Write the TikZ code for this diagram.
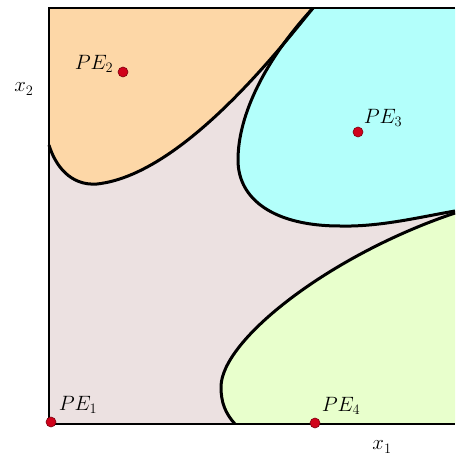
\documentclass[tikz,border=0pt]{standalone}
\usetikzlibrary{positioning}

\definecolor{basepink}{RGB}{236,225,225}
\definecolor{peorange}{RGB}{253,215,167}
\definecolor{pecyan}{RGB}{179,255,251}
\definecolor{pegreen}{RGB}{232,255,204}
\definecolor{pered}{RGB}{208,2,27}

\tikzset{
  boundary/.style={line width=3pt,line join=round},
  frame/.style={line width=2.4pt},
  pedot/.style={circle,fill=pered,draw=pered!60!black,line width=0.6pt,
                inner sep=0pt,minimum size=10pt},
  pelabel/.style={inner sep=0pt,font=\fontsize{20}{24}\selectfont}
}

\begin{document}
\begin{tikzpicture}[x=1pt,y=-1pt]
  \useasboundingbox (0,0) rectangle (455,457);

  % --- Background ---
  \fill[basepink] (49,8) rectangle (455,424);

  % --- Regions ---
  \fill[peorange] (49,8) -- (313,8)
       .. controls (275,55) and (180,175) .. (97,184)
       .. controls (70,186) and (55,165) .. (49,145) -- cycle;

  \fill[pecyan] (313,8) -- (455,8) -- (455,211)
       .. controls (420,217) and (380,227) .. (340,226)
       .. controls (275,226) and (238,200) .. (238,160)
       .. controls (238,115) and (265,60) .. (313,8) -- cycle;

  \fill[pegreen] (455,213) -- (455,424) -- (235,424)
       .. controls (225,413) and (221,402) .. (221,387)
       .. controls (221,340) and (330,255) .. (455,213) -- cycle;

  % --- Boundaries ---
  \draw[boundary] (313,8)
       .. controls (275,55) and (180,175) .. (97,184)
       .. controls (70,186) and (55,165) .. (49,145);
  \draw[boundary] (455,211)
       .. controls (420,217) and (380,227) .. (340,226)
       .. controls (275,226) and (238,200) .. (238,160)
       .. controls (238,115) and (265,60) .. (313,8);
  \draw[boundary] (235,424)
       .. controls (225,413) and (221,402) .. (221,387)
       .. controls (221,340) and (330,255) .. (455,213);

  % --- Frame ---
  \draw[frame] (455,8) -- (49,8) -- (49,424) -- (455,424);

  % --- Points ---
  \node[pedot] (pe1) at (51,422) {};
  \node[pedot] (pe2) at (123,72) {};
  \node[pedot] (pe3) at (358,132) {};
  \node[pedot] (pe4) at (315,423) {};

  % --- Labels ---
  \node[pelabel] (pe1lbl) at (78,405) {$PE_1$};
  \node[pelabel] (pe2lbl) at (94,64) {$PE_2$};
  \node[pelabel] (pe3lbl) at (383,118) {$PE_3$};
  \node[pelabel] (pe4lbl) at (341,406) {$PE_4$};
  \node[pelabel] (x2lbl) at (24,89) {$x_2$};
  \node[pelabel] (x1lbl) at (382,447) {$x_1$};
\end{tikzpicture}
\end{document}
